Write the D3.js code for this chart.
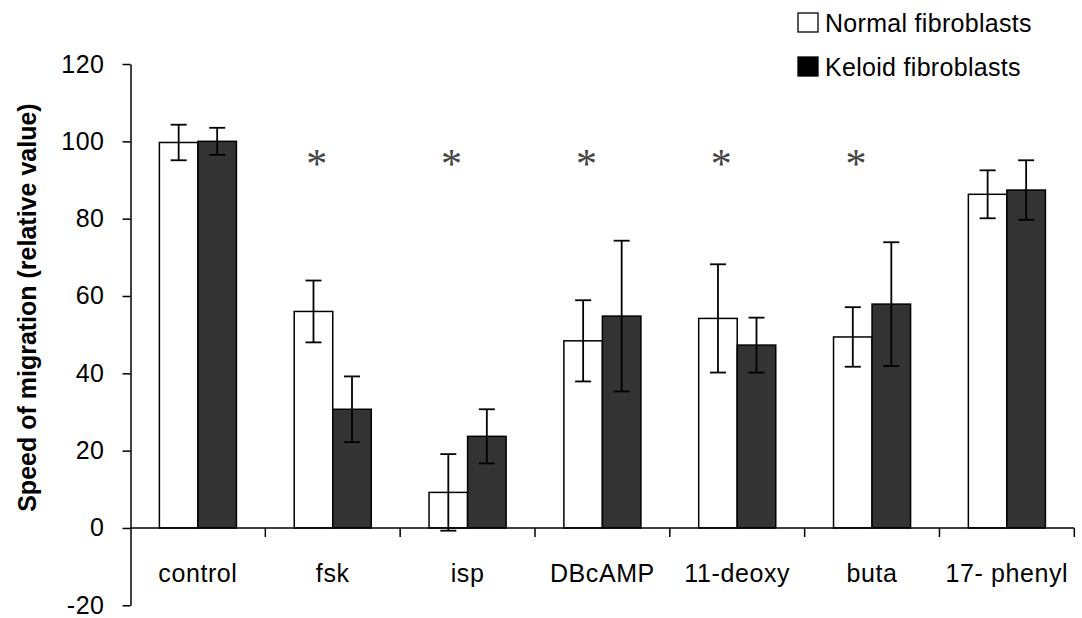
<!DOCTYPE html>
<html>
<head>
<meta charset="utf-8">
<script src="https://cdn.jsdelivr.net/npm/d3@7"></script>
<style>
  body { margin: 0; background: #fff; }
  text { font-family: "Liberation Sans", Arial, sans-serif; fill: #000; }
</style>
</head>
<body>
<div id="chart"></div>
<script>
// categories along the x axis
var categories = ["control", "fsk", "isp", "DBcAMP", "11-deoxy", "buta", "17- phenyl"];
var seriesNames = ["Normal fibroblasts", "Keloid fibroblasts"];

// mean speed of migration (relative value)
var normalValues = [99.7, 56, 9.2, 48.4, 54.2, 49.4, 86.3];
var keloidValues = [100, 30.7, 23.7, 54.8, 47.3, 57.9, 87.4];

// error bars (+/-)
var normalErr = [4.6, 8, 9.9, 10.5, 14, 7.7, 6.2];
var keloidErr = [3.5, 8.5, 7, 19.5, 7.1, 16, 7.7];

// categories marked with an asterisk, and the level of the marks
var starred = ["fsk", "isp", "DBcAMP", "11-deoxy", "buta"];
var starLevel = 95.5;

var yTicks = [-20, 0, 20, 40, 60, 80, 100, 120];

var W = 1082, H = 618;
var svg = d3.select("#chart").append("svg")
    .attr("width", W)
    .attr("height", H);

var left = 130.5, right = 1074.3;

var x0 = d3.scaleBand()
    .domain(categories)
    .range([left, right])
    .padding(0);

// two bars per category, gap width 150%
var x1 = d3.scaleBand()
    .domain([0, 1])
    .range([0, x0.bandwidth()])
    .paddingInner(0)
    .paddingOuter(0.75);

var yScale = d3.scaleLinear()
    .domain([-20, 120])
    .range([605.3, 64]);

var fills = ["#ffffff", "#333333"];

// y axis
var yAxis = d3.axisLeft(yScale)
    .tickValues(yTicks)
    .tickSize(8)
    .tickSizeOuter(0)
    .tickPadding(18)
    .tickFormat(function(d) { return String(d); });

var gy = svg.append("g")
    .attr("transform", "translate(" + left + ",0)")
    .call(yAxis);
gy.select(".domain").attr("stroke", "#000").attr("stroke-width", 1.5);
gy.selectAll(".tick line").attr("stroke", "#000").attr("stroke-width", 1.5);
gy.selectAll(".tick text")
    .style("font-size", "25px")
    .style("letter-spacing", "0.5px")
    .attr("fill", "#000");

// y axis title
svg.append("text")
    .attr("transform", "translate(36," + yScale(57) + ") rotate(-90)")
    .attr("text-anchor", "middle")
    .style("font-size", "25px")
    .style("font-weight", "bold")
    .text("Speed of migration (relative value)");

// bars
var rows = categories.map(function(c, i) {
    return {
        cat: c,
        vals: [
            { s: 0, v: normalValues[i], e: normalErr[i] },
            { s: 1, v: keloidValues[i], e: keloidErr[i] }
        ]
    };
});

var groups = svg.selectAll(".grp")
    .data(rows)
    .enter()
    .append("g")
    .attr("class", "grp")
    .attr("transform", function(d) { return "translate(" + x0(d.cat) + ",0)"; });

groups.selectAll("rect")
    .data(function(d) { return d.vals; })
    .enter()
    .append("rect")
    .attr("x", function(d) { return x1(d.s); })
    .attr("y", function(d) { return yScale(d.v); })
    .attr("width", x1.bandwidth())
    .attr("height", function(d) { return yScale(0) - yScale(d.v); })
    .attr("fill", function(d) { return fills[d.s]; })
    .attr("stroke", "#000")
    .attr("stroke-width", 1.5);

// error bars
var capW = 16;
var errs = groups.selectAll(".err")
    .data(function(d) { return d.vals; })
    .enter()
    .append("g")
    .attr("class", "err")
    .attr("stroke", "#000")
    .attr("stroke-width", 1.8);

errs.append("line")
    .attr("x1", function(d) { return x1(d.s) + x1.bandwidth() / 2; })
    .attr("x2", function(d) { return x1(d.s) + x1.bandwidth() / 2; })
    .attr("y1", function(d) { return yScale(d.v + d.e); })
    .attr("y2", function(d) { return yScale(d.v - d.e); });

[1, -1].forEach(function(sign) {
    errs.append("line")
        .attr("x1", function(d) { return x1(d.s) + x1.bandwidth() / 2 - capW / 2; })
        .attr("x2", function(d) { return x1(d.s) + x1.bandwidth() / 2 + capW / 2; })
        .attr("y1", function(d) { return yScale(d.v + sign * d.e); })
        .attr("y2", function(d) { return yScale(d.v + sign * d.e); });
});

// x axis line and ticks between categories
svg.append("line")
    .attr("x1", left)
    .attr("x2", right)
    .attr("y1", yScale(0))
    .attr("y2", yScale(0))
    .attr("stroke", "#000")
    .attr("stroke-width", 1.5);

svg.selectAll(".xtick")
    .data(categories)
    .enter()
    .append("line")
    .attr("class", "xtick")
    .attr("x1", function(d) { return x0(d) + x0.bandwidth(); })
    .attr("x2", function(d) { return x0(d) + x0.bandwidth(); })
    .attr("y1", yScale(0))
    .attr("y2", yScale(0) + 9)
    .attr("stroke", "#000")
    .attr("stroke-width", 1.5);

// category labels
svg.selectAll(".xlabel")
    .data(categories)
    .enter()
    .append("text")
    .attr("class", "xlabel")
    .attr("x", function(d) { return x0(d) + x0.bandwidth() / 2; })
    .attr("y", 582)
    .attr("text-anchor", "middle")
    .style("font-size", "25px")
    .style("letter-spacing", "0.6px")
    .text(function(d) { return d; });

// significance asterisks
svg.selectAll(".star")
    .data(starred)
    .enter()
    .append("text")
    .attr("class", "star")
    .attr("x", function(d) { return x0(d) + x0.bandwidth() / 2 - 16; })
    .attr("y", yScale(starLevel) + 19)
    .attr("text-anchor", "middle")
    .style("font-family", "'Liberation Serif', 'Times New Roman', serif")
    .style("font-size", "42px")
    .style("fill", "#444")
    .text("*");

// legend
var legend = svg.append("g")
    .attr("transform", "translate(798,13)");

var legendItems = legend.selectAll(".legend-item")
    .data(seriesNames)
    .enter()
    .append("g")
    .attr("class", "legend-item")
    .attr("transform", function(d, i) { return "translate(0," + (i * 44) + ")"; });

legendItems.append("rect")
    .attr("width", 20)
    .attr("height", 19)
    .attr("fill", function(d, i) { return i === 0 ? "#fff" : "#000"; })
    .attr("stroke", "#000")
    .attr("stroke-width", 1.3);

legendItems.append("text")
    .attr("x", 27)
    .attr("y", 19)
    .style("font-size", "25px")
    .style("letter-spacing", "0.3px")
    .text(function(d) { return d; });
</script>
</body>
</html>
